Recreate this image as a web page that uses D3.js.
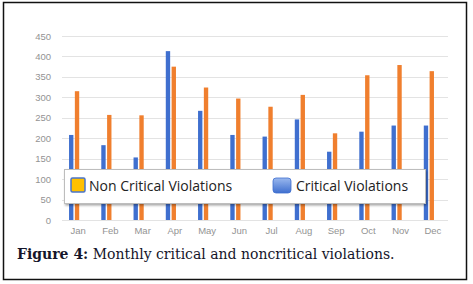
<!DOCTYPE html>
<html>
<head>
<meta charset="utf-8">
<script src="https://cdn.jsdelivr.net/npm/d3@7"></script>
<style>
  body { margin: 0; background: #fff; }
  svg { display: block; }
</style>
</head>
<body>
<svg id="chart" width="473" height="284"></svg>
<script>
const months = ["Jan", "Feb", "Mar", "Apr", "May", "Jun", "Jul", "Aug", "Sep", "Oct", "Nov", "Dec"];
const critical = [208, 183, 153, 413, 267, 208, 204, 246, 167, 216, 231, 231];
const nonCritical = [315, 257, 256, 375, 324, 297, 277, 306, 212, 354, 379, 364];
const yTicks = [0, 50, 100, 150, 200, 250, 300, 350, 400, 450];

const svg = d3.select("#chart");

// outer frame
svg.append("rect")
    .attr("x", 3.5).attr("y", 2.5)
    .attr("width", 463).attr("height", 277)
    .attr("fill", "none").attr("stroke", "#111").attr("stroke-width", 1.5);

const y = d3.scaleLinear().domain([0, 450]).range([220, 36]);
const x = d3.scaleBand().domain(months).range([58, 445]);
const inner = d3.scaleBand().domain(["c", "n"]).range([0, x.bandwidth()]).paddingInner(0.25).paddingOuter(1.9);

// gridlines
svg.append("g")
    .selectAll("line")
    .data(yTicks)
    .join("line")
    .attr("x1", 62).attr("x2", 448)
    .attr("y1", d => Math.round(y(d)) + 0.5)
    .attr("y2", d => Math.round(y(d)) + 0.5)
    .attr("stroke", "#e3e3e3").attr("stroke-width", 1.2);

// y labels
svg.append("g")
    .selectAll("text")
    .data(yTicks)
    .join("text")
    .attr("x", 51)
    .attr("y", d => y(d) + 3.5)
    .attr("text-anchor", "end")
    .attr("font-family", "Liberation Sans, Arial, sans-serif")
    .attr("font-size", 9.5)
    .attr("fill", "#939393")
    .text(d => d);

// month labels
svg.append("g")
    .selectAll("text")
    .data(months)
    .join("text")
    .attr("x", d => x(d) + x.bandwidth() / 2 + 4)
    .attr("y", 234)
    .attr("text-anchor", "middle")
    .attr("font-family", "Liberation Sans, Arial, sans-serif")
    .attr("font-size", 9.5)
    .attr("fill", "#939393")
    .text(d => d);

// bars
const bars = svg.append("g");
bars.selectAll(".crit")
    .data(critical)
    .join("rect")
    .attr("class", "crit")
    .attr("x", (d, i) => x(months[i]) + inner("c"))
    .attr("width", inner.bandwidth())
    .attr("y", d => y(d))
    .attr("height", d => y(0) - y(d))
    .attr("fill", "#3f6fcf");

bars.selectAll(".noncrit")
    .data(nonCritical)
    .join("rect")
    .attr("class", "noncrit")
    .attr("x", (d, i) => x(months[i]) + inner("n"))
    .attr("width", inner.bandwidth())
    .attr("y", d => y(d))
    .attr("height", d => y(0) - y(d))
    .attr("fill", "#f07f2e");

// legend
const defs = svg.append("defs");
const shadow = defs.append("filter").attr("id", "shadow").attr("x", "-5%").attr("y", "-20%").attr("width", "110%").attr("height", "150%");
shadow.append("feDropShadow").attr("dx", 1).attr("dy", 1.5).attr("stdDeviation", 1.2).attr("flood-color", "#000").attr("flood-opacity", 0.35);

const blueGrad = defs.append("linearGradient").attr("id", "blueGrad").attr("x1", 0).attr("y1", 0).attr("x2", 0).attr("y2", 1);
blueGrad.append("stop").attr("offset", "0%").attr("stop-color", "#9ab8ee");
blueGrad.append("stop").attr("offset", "100%").attr("stop-color", "#3f6fcf");

const legend = svg.append("g");
legend.append("rect")
    .attr("x", 64.5).attr("y", 169.5)
    .attr("width", 361).attr("height", 34)
    .attr("fill", "#fff").attr("stroke", "#bdbdbd").attr("stroke-width", 1)
    .attr("filter", "url(#shadow)");

legend.append("rect")
    .attr("x", 71).attr("y", 178)
    .attr("width", 14).attr("height", 14)
    .attr("rx", 1.5)
    .attr("fill", "#ffc000").attr("stroke", "#4a74c9").attr("stroke-width", 1.5);

legend.append("text")
    .attr("x", 89).attr("y", 191)
    .attr("font-family", "Open Sans, Liberation Sans, sans-serif")
    .attr("font-size", 14)
    .attr("fill", "#222")
    .text("Non Critical Violations");

legend.append("rect")
    .attr("x", 273).attr("y", 178)
    .attr("width", 18).attr("height", 15)
    .attr("rx", 3)
    .attr("fill", "url(#blueGrad)").attr("stroke", "#3f6fcf").attr("stroke-width", 0.8);

legend.append("text")
    .attr("x", 296).attr("y", 191)
    .attr("font-family", "Open Sans, Liberation Sans, sans-serif")
    .attr("font-size", 14)
    .attr("fill", "#222")
    .text("Critical Violations");

// caption
const caption = svg.append("text")
    .attr("x", 17).attr("y", 259)
    .attr("font-family", "DejaVu Serif, Liberation Serif, serif")
    .attr("font-size", 14)
    .attr("fill", "#15152a");
caption.append("tspan").attr("font-weight", "bold").text("Figure 4:");
caption.append("tspan").text(" Monthly critical and noncritical violations.");
</script>
</body>
</html>
